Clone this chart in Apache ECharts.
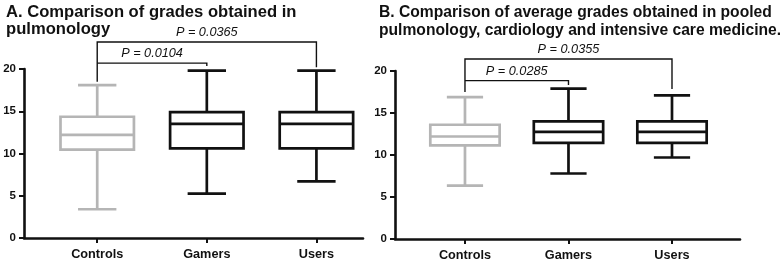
<!DOCTYPE html>
<html>
<head>
<meta charset="utf-8">
<script src="https://cdn.jsdelivr.net/npm/echarts@6/dist/echarts.min.js"></script>
<style>
  html, body { margin: 0; padding: 0; background: #fff; }
  #chart { width: 780px; height: 262px; }
</style>
</head>
<body>
<div id="chart"></div>
<script>
// groups on the x axis
var categories = ['Controls', 'Gamers', 'Users'];

// [min, Q1, median, Q3, max] per group
var pulmoStats = [
  [3.4, 10.45, 12.2, 14.35, 18.1],
  [5.25, 10.6, 13.5, 14.9, 19.8],
  [6.7, 10.6, 13.5, 14.9, 19.8]
];
var pooledStats = [
  [6.35, 11.15, 12.2, 13.6, 16.9],
  [7.8, 11.45, 12.75, 14.0, 17.9],
  [9.7, 11.45, 12.75, 14.0, 17.1]
];

// significance brackets: pair of groups, bar height, end heights, label
var pulmoPairs = [[0, 1], [0, 2]];
var pulmoBarY = [20.7, 23.2];
var pulmoEndY = [[20.7, 20.35], [18.5, 20.2]];
var pulmoP = ['P = 0.0104', 'P = 0.0365'];

var pooledPairs = [[0, 1], [0, 2]];
var pooledBarY = [18.85, 21.42];
var pooledEndY = [[18.85, 18.34], [17.5, 17.87]];
var pooledP = ['P = 0.0285', 'P = 0.0355'];

var yTicks = [0, 5, 10, 15, 20];

var FONT = '"Liberation Sans", Arial, sans-serif';
var GRAY = '#b5b5b5';
var BLACK = '#111';

function boxData(stats) {
  return stats.map(function (s, i) { return [i].concat(s); });
}
function bracketData(pairs, barY, endY, labels) {
  return pairs.map(function (p, i) {
    return { value: [p[0], p[1], barY[i], endY[i][0], endY[i][1]], label: labels[i] };
  });
}

function renderBox(params, api) {
  var x = api.value(0);
  var unit = api.size([1, 0])[0];
  var half = unit * 0.335, cap = unit * 0.175;
  var color = params.dataIndex === 0 ? GRAY : BLACK;
  var pMin = api.coord([x, api.value(1)]);
  var pQ1 = api.coord([x, api.value(2)]);
  var pMed = api.coord([x, api.value(3)]);
  var pQ3 = api.coord([x, api.value(4)]);
  var pMax = api.coord([x, api.value(5)]);
  var cx = pMed[0];
  var st = { stroke: color, lineWidth: 2.7, fill: null };
  return {
    type: 'group',
    children: [
      { type: 'line', shape: { x1: cx, y1: pMax[1], x2: cx, y2: pQ3[1] }, style: st },
      { type: 'line', shape: { x1: cx, y1: pQ1[1], x2: cx, y2: pMin[1] }, style: st },
      { type: 'line', shape: { x1: cx - cap, y1: pMax[1], x2: cx + cap, y2: pMax[1] }, style: st },
      { type: 'line', shape: { x1: cx - cap, y1: pMin[1], x2: cx + cap, y2: pMin[1] }, style: st },
      { type: 'rect', shape: { x: cx - half, y: pQ3[1], width: half * 2, height: pQ1[1] - pQ3[1] }, style: st },
      { type: 'line', shape: { x1: cx - half, y1: pMed[1], x2: cx + half, y2: pMed[1] }, style: st }
    ]
  };
}

function makeBracketRenderer(data) {
  return function (params, api) {
    var a = api.coord([api.value(0), api.value(2)]);
    var b = api.coord([api.value(1), api.value(2)]);
    var e1 = api.coord([api.value(0), api.value(3)]);
    var e2 = api.coord([api.value(1), api.value(4)]);
    return {
      type: 'group',
      children: [
        {
          type: 'polyline',
          shape: { points: [[e1[0], e1[1]], [a[0], a[1]], [b[0], b[1]], [e2[0], e2[1]]] },
          style: { stroke: BLACK, lineWidth: 1.4, fill: null }
        },
        {
          type: 'text',
          x: (a[0] + b[0]) / 2,
          y: a[1] - 3,
          style: {
            text: data[params.dataIndex].label,
            fontFamily: FONT, fontStyle: 'italic', fontSize: 12.7,
            fill: BLACK, align: 'center', verticalAlign: 'bottom'
          }
        }
      ]
    };
  };
}

function xAxis(grid, min, max) {
  return {
    type: 'value', gridIndex: grid, min: min, max: max,
    axisLine: { show: true, onZero: false, lineStyle: { color: BLACK, width: 2.6 } },
    axisTick: { show: true, customValues: [0, 1, 2], length: 5, lineStyle: { color: BLACK, width: 2 } },
    axisLabel: {
      customValues: [0, 1, 2], margin: 10,
      fontFamily: FONT, fontWeight: 'bold', fontSize: 12.7, color: '#111',
      formatter: function (v) { return categories[Math.round(v)]; }
    },
    splitLine: { show: false }
  };
}
function yAxis(grid) {
  return {
    type: 'value', gridIndex: grid, min: 0, max: 20, interval: 5,
    axisLine: { show: true, onZero: false, lineStyle: { color: BLACK, width: 2.6 } },
    axisTick: { show: true, length: 5, lineStyle: { color: BLACK, width: 2 } },
    axisLabel: {
      margin: 8, fontFamily: FONT, fontWeight: 'bold', fontSize: 11.5, color: '#111',
      formatter: function (v) { return yTicks.indexOf(v) >= 0 ? String(v) : ''; }
    },
    splitLine: { show: false }
  };
}

var pulmoBr = bracketData(pulmoPairs, pulmoBarY, pulmoEndY, pulmoP);
var pooledBr = bracketData(pooledPairs, pooledBarY, pooledEndY, pooledP);

var chart = echarts.init(document.getElementById('chart'), null, { renderer: 'canvas' });
chart.setOption({
  backgroundColor: '#fff',
  animation: false,
  title: [
    {
      text: 'A. Comparison of grades obtained in\npulmonology',
      left: 1, top: -1,
      textStyle: { fontFamily: FONT, fontWeight: 'bold', fontSize: 16.6, lineHeight: 17, color: '#111' }
    },
    {
      text: 'B. Comparison of average grades obtained in pooled\npulmonology, cardiology and intensive care medicine.',
      left: 374, top: -1,
      textStyle: { fontFamily: FONT, fontWeight: 'bold', fontSize: 15.65, lineHeight: 17.5, color: '#111' }
    }
  ],
  grid: [
    { left: 24, top: 69, width: 339, height: 169 },
    { left: 395, top: 71, width: 345, height: 169 }
  ],
  xAxis: [xAxis(0, -0.668, 2.425), xAxis(1, -0.676, 2.657)],
  yAxis: [yAxis(0), yAxis(1)],
  series: [
    { type: 'custom', xAxisIndex: 0, yAxisIndex: 0, renderItem: renderBox, data: boxData(pulmoStats), clip: false },
    { type: 'custom', xAxisIndex: 1, yAxisIndex: 1, renderItem: renderBox, data: boxData(pooledStats), clip: false },
    { type: 'custom', xAxisIndex: 0, yAxisIndex: 0, renderItem: makeBracketRenderer(pulmoBr), data: pulmoBr, clip: false },
    { type: 'custom', xAxisIndex: 1, yAxisIndex: 1, renderItem: makeBracketRenderer(pooledBr), data: pooledBr, clip: false }
  ]
});
</script>
</body>
</html>
